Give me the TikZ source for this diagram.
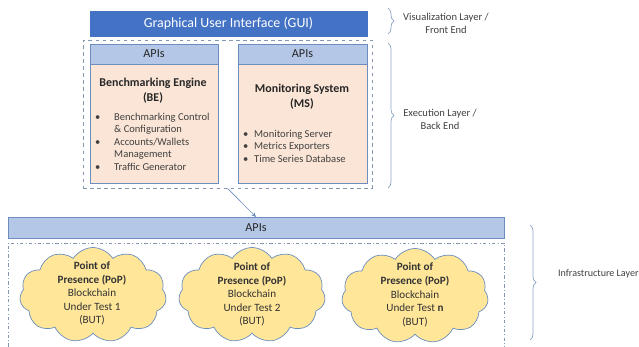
\documentclass[tikz,border=0pt]{standalone}
\usepackage{fontspec}
\setmainfont{Carlito}
\usetikzlibrary{shapes.symbols,decorations.pathreplacing,arrows.meta,fit}
\definecolor{guiblue}{HTML}{4472C4}
\definecolor{apiblue}{HTML}{B4C7E7}
\definecolor{peach}{HTML}{FBE5D6}
\definecolor{cloudy}{HTML}{FFE699}
\definecolor{edgeblue}{HTML}{6C8EBF}
\definecolor{graytxt}{HTML}{404040}
\definecolor{bracec}{HTML}{8EA3C6}
\definecolor{dashc}{HTML}{8496B0}
\begin{document}
\begin{tikzpicture}[x=0.03cm,y=-0.03cm,
  rbox/.style={draw=edgeblue, line width=0.6pt, inner sep=0pt, outer sep=0pt},
  apihead/.style={rbox, fill=apiblue},
  body/.style={rbox, fill=peach},
  head/.style={font=\fontsize{10.4}{12}\selectfont, text=black!85},
  title/.style={font=\bfseries\fontsize{10.2}{12.7}\selectfont, align=center, text=black!85},
  bul/.style={font=\fontsize{9}{10.6}\selectfont, text=graytxt, inner sep=0pt},
  lbl/.style={font=\fontsize{9}{11}\selectfont, text=graytxt, align=center},
  cloudbox/.style={cloud, cloud puffs=11, cloud puff arc=115, draw=edgeblue, line width=0.6pt, fill=cloudy, minimum width=4.4cm, minimum height=2.85cm, aspect=1.6},
  cloudtxt/.style={font=\fontsize{9.5}{11.6}\selectfont, align=center, text=black!80},
  bracestyle/.style={draw=bracec, line width=0.6pt, decorate, decoration={brace, amplitude=0.18cm}}
]
\useasboundingbox (0,0) rectangle (639,347);

% GUI
\node[fit={(90,11) (367,36)}, inner sep=0pt, fill=guiblue, draw=guiblue] (gui) {};
\node[font=\fontsize{11.9}{13}\selectfont, text=white] (guit) at (gui.center) {Graphical User Interface (GUI)};

% Execution dashed box
\node[fit={(83,40) (372,188)}, inner sep=0pt, draw=dashc, dashed, line width=0.6pt] (exec) {};

% BE
\node[fit={(90,44) (218,64)}, apihead] (beapi) {};
\node[head] (beapit) at (beapi.center) {APIs};
\node[fit={(90,64) (218,183)}, body] (be) {};
\node[title] (bet) at (153,90.5) {Benchmarking Engine\\(BE)};
\node[bul, anchor=north west] (bel) at (95,111.5) {%
\begin{tabular}{@{}p{0.57cm}@{}l@{}}
\textbullet & Benchmarking Control\\
 & \& Configuration\\
\textbullet & Accounts/Wallets\\
 & Management\\
\textbullet & Traffic Generator
\end{tabular}};

% MS
\node[fit={(238,44) (367,64)}, apihead] (msapi) {};
\node[head] (msapit) at (msapi.center) {APIs};
\node[fit={(238,64) (367,183)}, body] (ms) {};
\node[title] (mst) at (302,97) {Monitoring System\\(MS)};
\node[bul, anchor=north west] (msl) at (243,128.5) {%
\begin{tabular}{@{}p{0.33cm}@{}l@{}}
\textbullet & Monitoring Server\\
\textbullet & Metrics Exporters\\
\textbullet & Time Series Database
\end{tabular}};

% Infrastructure APIs bar
\node[fit={(8,217) (504,238)}, apihead] (apis) {};
\node[head] (apist) at (apis.center) {APIs};

% arrow
\draw[edgeblue, line width=0.5pt, -{Stealth[length=4pt,width=3.5pt]}] (exec.south) -- (apis.north);

% dash-dot frame
\draw[dashc, line width=0.6pt, dash dot] (8,347) -- (8,243) -- (504,243) -- (504,347);

% clouds
\node[cloudbox] (c1) at (93,295) {};
\node[cloudtxt] (c1t) at (92,293.5) {\textbf{Point of}\\\textbf{Presence (PoP)}\\Blockchain\\Under Test 1\\(BUT)};
\node[cloudbox] (c2) at (252,295) {};
\node[cloudtxt] (c2t) at (252,294.5) {\textbf{Point of}\\\textbf{Presence (PoP)}\\Blockchain\\Under Test 2\\(BUT)};
\node[cloudbox] (c3) at (415,296) {};
\node[cloudtxt] (c3t) at (415,295) {\textbf{Point of}\\\textbf{Presence (PoP)}\\Blockchain\\Under Test \textbf{n}\\(BUT)};

% braces
\draw[bracestyle] (388,8) -- (388,34);
\draw[bracestyle] (388,43) -- (388,188);
\draw[bracestyle] (530,225) -- (530,340);

% labels
\node[lbl] (vis) at (446,23.5) {Visualization Layer /\\Front End};
\node[lbl] (exl) at (440,119.5) {Execution Layer /\\Back End};
\node[lbl, anchor=west, font=\fontsize{8.6}{10}\selectfont] (inf) at (554,274) {Infrastructure Layer};
\end{tikzpicture}
\end{document}
